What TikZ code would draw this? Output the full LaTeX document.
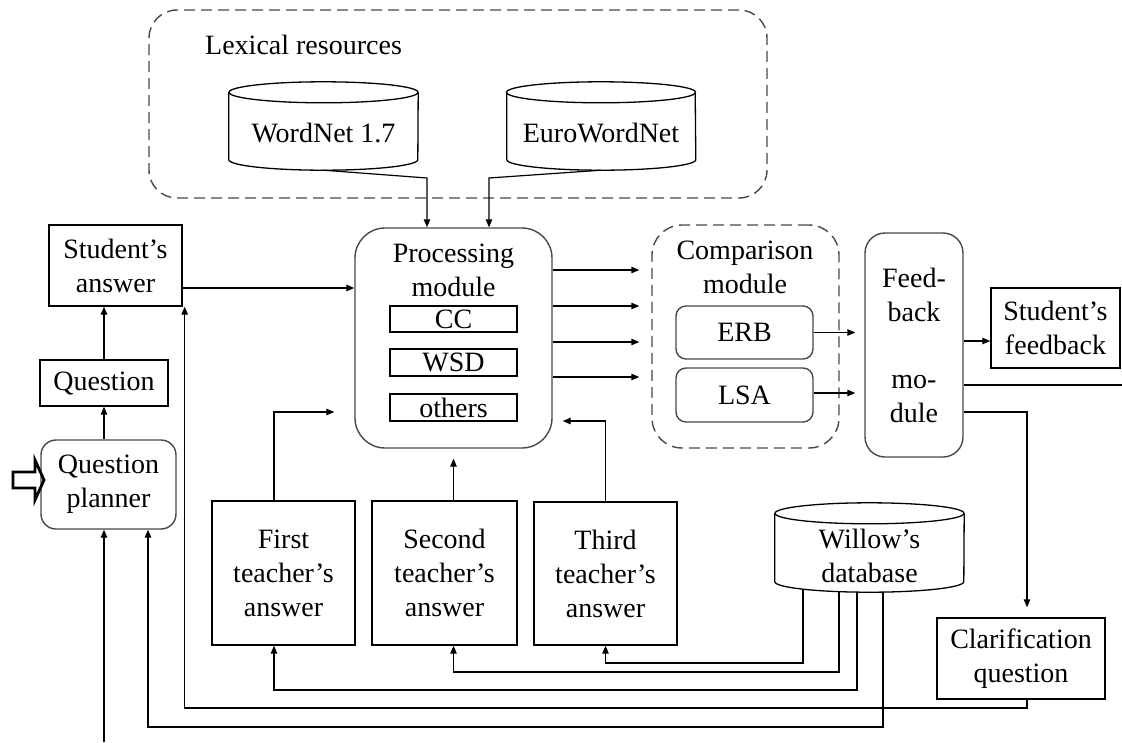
\documentclass[tikz,border=0pt]{standalone}
\usepackage{fontspec}
\setmainfont{Liberation Serif}
\usetikzlibrary{arrows.meta,calc}
\definecolor{edgegray}{RGB}{72,72,72}
% outline of a database drum drawn around a named node
\newcommand\drumshape[1]{%
  \draw[drumline] ($(#1.north west)+(0,-10.5)$) -- ($(#1.south west)+(0,10.5)$)
    arc[start angle=180,end angle=360,x radius=94.5,y radius=10.5]
    -- ($(#1.north east)+(0,-10.5)$);
  \draw[drumline] ($(#1.north)+(0,-10.5)$) ellipse[x radius=94.5,y radius=10.5];}
\begin{document}
\begin{tikzpicture}[x=1pt,y=1pt,
  every node/.style={font=\fontsize{28}{34}\selectfont, inner sep=0pt, align=center},
  sqbox/.style={draw=black, line width=1.4pt},
  rbox/.style={draw=edgegray, line width=1.4pt, rounded corners=#1},
  rbox/.default=12pt,
  dashbox/.style={draw=edgegray, line width=1.4pt, dash pattern=on 11pt off 6pt, rounded corners=#1},
  dashbox/.default=28pt,
  drumline/.style={draw=black, line width=1.3pt},
  wire/.style={line width=1.2pt},
  arr/.style={wire, -{Triangle[length=8pt,width=6.5pt]}},
  inarrow/.style={line width=2.8pt, line join=miter}]
\useasboundingbox (0,0) rectangle (1122,-742);

% lexical resources group
\node[dashbox=28pt, minimum width=618pt, minimum height=188pt] (lex) at (458,-104) {};
\node[anchor=west] (lexlabel) at (205,-45) {Lexical resources};
\node[minimum width=189pt, minimum height=88pt] (wordnet) at (323.5,-126) {};
\drumshape{wordnet}
\node (wordnettext) at (323.5,-133) {WordNet 1.7};
\node[minimum width=188pt, minimum height=88pt] (eurownet) at (601,-126) {};
\drumshape{eurownet}
\node (eurowntext) at (601,-133) {EuroWordNet};

% processing module
\node[rbox=30pt, minimum width=197pt, minimum height=220pt] (pm) at (453.5,-338) {};
\node (pmlabel) at (453.5,-270) {Processing\\module};
\node[sqbox, minimum width=127pt, minimum height=26pt] (cc) at (453.5,-319) {CC};
\node[sqbox, minimum width=127pt, minimum height=27pt] (wsd) at (453.5,-362.5) {WSD};
\node[sqbox, minimum width=127pt, minimum height=27pt] (others) at (453.5,-407.5) {others};

% comparison module
\node[dashbox=30pt, minimum width=187pt, minimum height=223pt] (cm) at (745.5,-336.5) {};
\node (cmlabel) at (745,-267.5) {Comparison\\module};
\node[rbox=10pt, minimum width=137pt, minimum height=53pt] (erb) at (744.5,-332.5) {ERB};
\node[rbox=10pt, minimum width=137pt, minimum height=54pt] (lsa) at (744.5,-395) {LSA};

% feedback side
\node[rbox=20pt, minimum width=98pt, minimum height=224pt] (fm) at (914,-345) {Feed-\\back\\[33pt]mo-\\dule};
\node[sqbox, minimum width=129pt, minimum height=80pt] (sf) at (1055.5,-328) {Student’s\\feedback};
\node[sqbox, minimum width=168pt, minimum height=81pt] (cq) at (1021,-658.5) {Clarification\\question};

% student side
\node[sqbox, minimum width=133pt, minimum height=81pt] (sa) at (115.5,-265.5) {Student’s\\answer};
\node[sqbox, minimum width=128pt, minimum height=46pt] (q) at (104,-383) {Question};
\node[rbox=15pt, minimum width=135pt, minimum height=89pt] (qp) at (108.5,-484.5) {Question\\planner};

% teacher answers
\node[sqbox, minimum width=143pt, minimum height=144pt] (t1) at (283.5,-573) {First\\teacher’s\\answer};
\node[sqbox, minimum width=145pt, minimum height=144pt] (t2) at (444.5,-573) {Second\\teacher’s\\answer};
\node[sqbox, minimum width=143pt, minimum height=143pt] (t3) at (605.5,-573.5) {Third\\teacher’s\\answer};

% Willow's database
\node[minimum width=189pt, minimum height=89pt] (willow) at (869.5,-547.5) {};
\drumshape{willow}
\node (willowtext) at (869.5,-555.5) {Willow’s\\database};

% free ends
\coordinate (wnbend) at (427,-178);
\coordinate (ewbend) at (489,-178);
\coordinate (exit) at (1122,-385);
\coordinate (inlet) at (104,-742);

% lexical resources into processing
\draw[arr] (wordnet.south) -- (wnbend) -- (wnbend |- pm.north);
\draw[arr] (eurownet.south) -- (ewbend) -- (ewbend |- pm.north);

% student's answer path
\draw[arr] (sa.east |- 0,-288) -- (pm.west |- 0,-288);
\draw[arr] (q.north) -- (q.north |- sa.south);
\draw[arr] (qp.north -| q.north) -- (q.south);
\draw[arr] (inlet) -- (inlet |- qp.south);
\draw[inarrow] (13,-472) -- (35,-472) -- (35,-460) -- (44,-480) -- (35,-500) -- (35,-488) -- (13,-488) -- cycle;

% processing into comparison
\foreach \yy in {270,306,342,377}
  \draw[arr, shorten >=12pt] (pm.east |- 0,-\yy) -- (cm.west |- 0,-\yy);

% teacher answers into processing
\draw[arr, shorten >=20pt] ([xshift=-9.5pt]t1.north) |- (pm.west |- 0,-412);
\draw[arr, shorten >=10pt] (pm.south |- t2.north) -- (pm.south);
\draw[arr, shorten >=10pt] (t3.north) |- (pm.east |- 0,-421);

% comparison into feedback
\draw[arr, shorten >=9pt] (erb.east) -- (fm.west |- erb.east);
\draw[arr, shorten >=9pt] (lsa.east |- 0,-393) -- (fm.west |- 0,-393);

% feedback outputs
\draw[arr] (fm.east |- 0,-341) -- (sf.west |- 0,-341);
\draw[wire] (fm.east |- exit) -- (exit);
\draw[arr, shorten >=10pt] (fm.east |- 0,-412) -| ([xshift=6pt]cq.north);

% database links
\draw[arr] ([xshift=-66.5pt,yshift=3pt]willow.south) |- (t3.south |- 0,-663) -- (t3.south);
\draw[arr] ([xshift=-30.5pt]willow.south) |- (pm.south |- 0,-672) -- (pm.south |- t2.south);
\draw[arr] ([xshift=-12.5pt]willow.south) |- ([xshift=-9.5pt]t1.south |- 0,-690) -- ([xshift=-9.5pt]t1.south);
\draw[arr] ([xshift=13.5pt]willow.south) |- (148,-727) -- (148,0 |- qp.south);
\draw[arr] ([xshift=6pt]cq.south) |- ([xshift=2pt]sa.south east |- 0,-708) -- ([xshift=2pt]sa.south east);
\end{tikzpicture}
\end{document}
